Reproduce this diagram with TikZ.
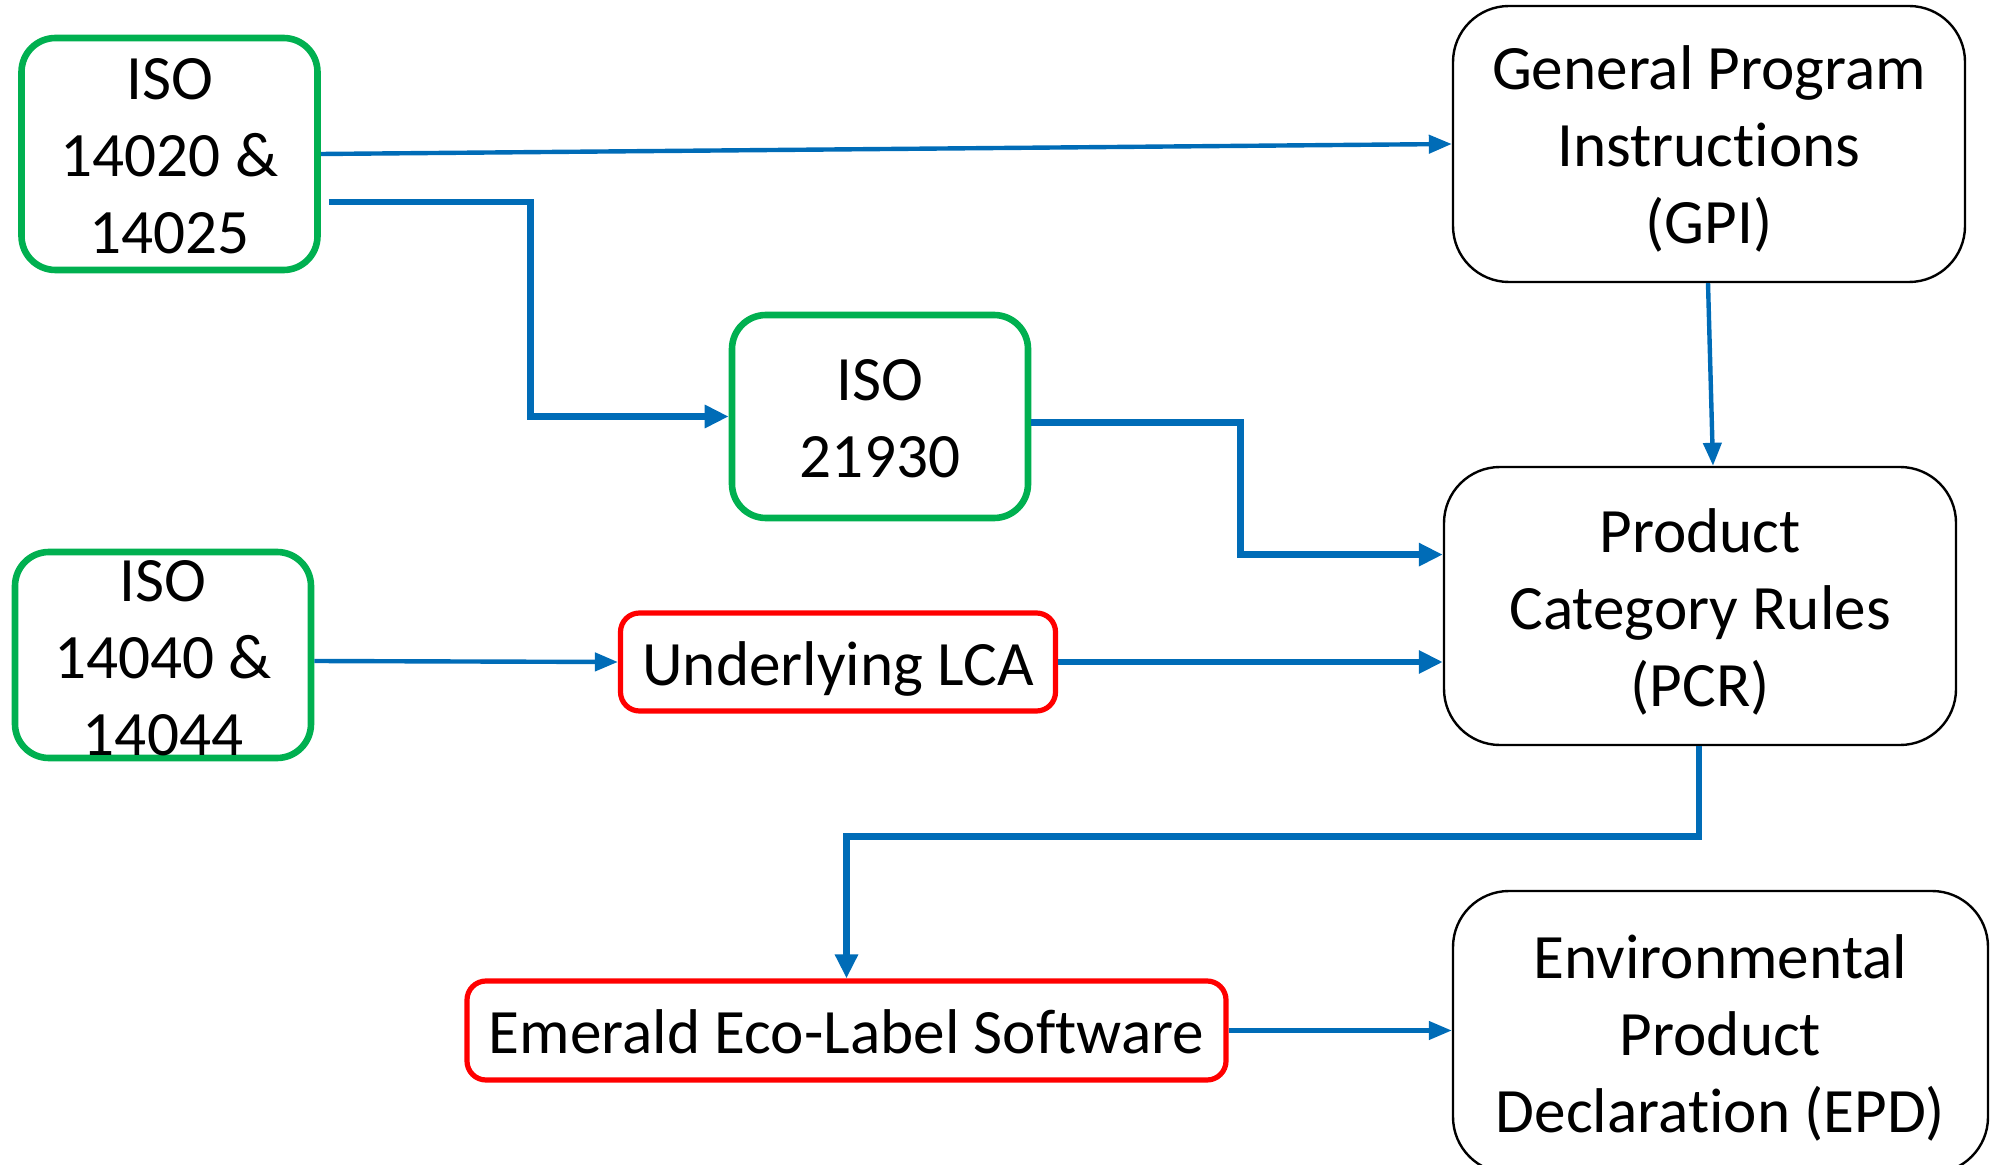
\documentclass[tikz,border=0pt]{standalone}
\usepackage{fontspec}
\setmainfont{Carlito}[Ligatures={NoCommon}]
\usetikzlibrary{arrows.meta,calc}
\definecolor{lblue}{RGB}{0,108,183}
\definecolor{lgreen}{RGB}{0,176,80}
\definecolor{lred}{RGB}{255,0,0}
\newcommand\TopS{\rule{0pt}{30pt}}
\newcommand\BotS{\rule[-7pt]{0pt}{7pt}}
\tikzset{
  box/.style={rectangle,inner sep=0pt,align=center,
    font=\fontsize{31.6}{38.5}\selectfont},
  greenbox/.style={box,draw=lgreen,line width=3.3pt,rounded corners=17pt},
  redbox/.style={box,draw=lred,line width=2.6pt,rounded corners=9.5pt},
  blackbox/.style={box,draw=black,line width=1.2pt,rounded corners=28pt},
  plain/.style={box},
  thinarrow/.style={draw=lblue,line width=2.2pt,
    -{Triangle[length=11.5pt,width=9pt]}},
  thickarrow/.style={draw=lblue,line width=3.4pt,
    -{Triangle[length=12pt,width=11pt]}}
}
\begin{document}
\begin{tikzpicture}[x=0.5pt,y=-0.5pt]
\useasboundingbox (0,0) rectangle (1990,1165);

\node[greenbox,minimum width=148pt,minimum height=116pt] (iso1) at (169.5,154) {\TopS ISO\\14020 \&\\14025\BotS};
\node[blackbox,minimum width=256pt,minimum height=138pt] (gpi) at (1709,144) {\TopS General Program\\Instructions\\(GPI)\BotS};
\node[greenbox,minimum width=148pt,minimum height=101.5pt] (iso3) at (880,416.5) {\TopS ISO\\21930\BotS};
\node[blackbox,minimum width=256pt,minimum height=139pt] (pcr) at (1700,606) {\TopS Product\\Category Rules\\(PCR)\BotS};
\node[greenbox,minimum width=148pt,minimum height=103pt] (iso2) at (163,655) {};
\node[plain] (iso2text) at (163,655) {\TopS ISO\\14040 \&\\14044\BotS};
\node[redbox,minimum width=217.5pt,minimum height=49pt] (lca) at (838,662) {\TopS Underlying LCA\BotS};
\node[redbox,minimum width=379.5pt,minimum height=49.5pt] (em) at (846.5,1030.5) {\TopS Emerald Eco-Label Software\BotS};
\node[blackbox,minimum width=267.5pt,minimum height=141pt] (epd) at (1720.5,1032) {\TopS Environmental\\Product\\Declaration (EPD)\BotS};

% connectors
\draw[thinarrow] (iso1.east) -- (gpi.west);
\coordinate (c1) at ($(iso1.east)+(8,48)$);
\draw[thickarrow] (c1) -- ++(201.7,0) |- (iso3.west);
\draw[thickarrow] ($(iso3.east)+(0,6)$) -- ++(209.4,0) |- ($(pcr.west)+(0,-51.4)$);
\draw[thinarrow] ($(gpi.south)+(-1,0)$) -- ($(pcr.north)+(13,0)$);
\draw[thinarrow] ($(iso2.east)+(0,6)$) -- (lca.west);
\draw[thickarrow] (lca.east) -- (lca.east -| pcr.west);
\draw[thickarrow] ($(pcr.south)+(-1,0)$) -- ++(0,90) -| (em.north);
\draw[thinarrow] (em.east) -- (em.east -| epd.west);
\end{tikzpicture}
\end{document}
